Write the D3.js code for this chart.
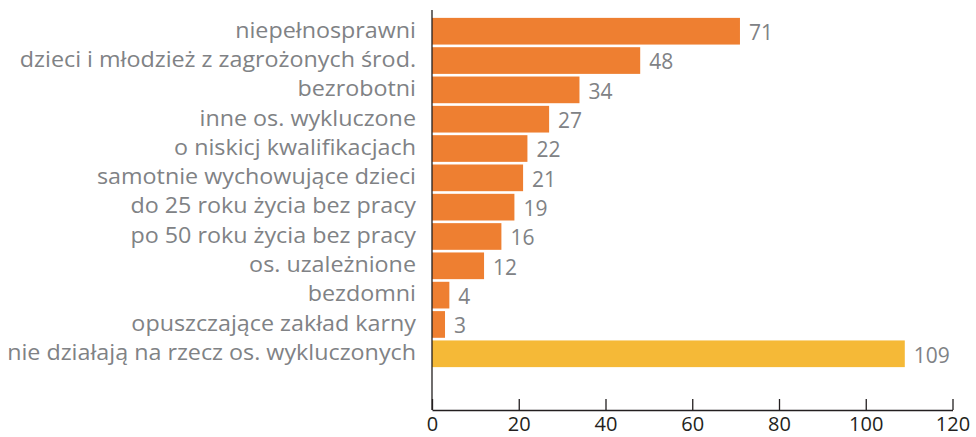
<!DOCTYPE html>
<html>
<head>
<meta charset="utf-8">
<script src="https://cdn.jsdelivr.net/npm/d3@7"></script>
<style>
  body { margin: 0; background: #fff; }
  svg { display: block; }
</style>
</head>
<body>
<svg width="976" height="437"></svg>
<script>
const categories = [
    "niepełnosprawni",
    "dzieci i młodzież z zagrożonych środ.",
    "bezrobotni",
    "inne os. wykluczone",
    "o niskicj kwalifikacjach",
    "samotnie wychowujące dzieci",
    "do 25 roku życia bez pracy",
    "po 50 roku życia bez pracy",
    "os. uzależnione",
    "bezdomni",
    "opuszczające zakład karny",
    "nie działają na rzecz os. wykluczonych"
];
const values = [71, 48, 34, 27, 22, 21, 19, 16, 12, 4, 3, 109];
const highlight = [false, false, false, false, false, false, false, false, false, false, false, true];
const xTicks = [0, 20, 40, 60, 80, 100, 120];

const svg = d3.select("svg");
const font = "'Open Sans', sans-serif";

const x = d3.scaleLinear().domain([0, 120]).range([432, 952.5]);
const y = d3.scaleBand()
    .domain(categories)
    .range([17, 368])
    .paddingInner(0.09)
    .paddingOuter(0.03);

const axisY = 410;

// bars
svg.append("g")
    .selectAll("rect")
    .data(categories)
    .join("rect")
    .attr("x", x(0))
    .attr("y", d => y(d))
    .attr("width", (d, i) => x(values[i]) - x(0))
    .attr("height", y.bandwidth())
    .attr("fill", (d, i) => highlight[i] ? "#f5b937" : "#ee7f31");

// value labels
svg.append("g")
    .attr("font-family", font)
    .attr("font-size", 21)
    .attr("fill", "#808285")
    .selectAll("text")
    .data(categories)
    .join("text")
    .attr("x", (d, i) => x(values[i]) + 9)
    .attr("y", d => y(d) + y.bandwidth() / 2 + 1.5)
    .attr("dy", "0.35em")
    .text((d, i) => values[i]);

// category labels (source font is wider, stretch horizontally)
svg.append("g")
    .attr("transform", "translate(416,0) scale(1.11,1)")
    .attr("font-family", font)
    .attr("font-size", 21)
    .attr("fill", "#808285")
    .attr("text-anchor", "end")
    .selectAll("text")
    .data(categories)
    .join("text")
    .attr("x", 0)
    .attr("y", d => y(d) + y.bandwidth() / 2 - 1)
    .attr("dy", "0.35em")
    .text(d => d);

// vertical axis line
svg.append("line")
    .attr("x1", x(0)).attr("x2", x(0))
    .attr("y1", 10).attr("y2", axisY)
    .attr("stroke", "#231f20")
    .attr("stroke-width", 1.3);

// x axis with ticks pointing up
const xAxis = d3.axisBottom(x)
    .tickValues(xTicks)
    .tickSizeInner(-11)
    .tickSizeOuter(0)
    .tickPadding(7);

const gx = svg.append("g")
    .attr("transform", `translate(0,${axisY})`)
    .call(xAxis);

gx.select(".domain").attr("stroke", "#231f20").attr("stroke-width", 1.3);
gx.selectAll(".tick line").attr("stroke", "#231f20").attr("stroke-width", 1.3);
gx.selectAll(".tick text")
    .attr("font-family", font)
    .attr("font-size", 20)
    .attr("fill", "#231f20");
</script>
</body>
</html>
